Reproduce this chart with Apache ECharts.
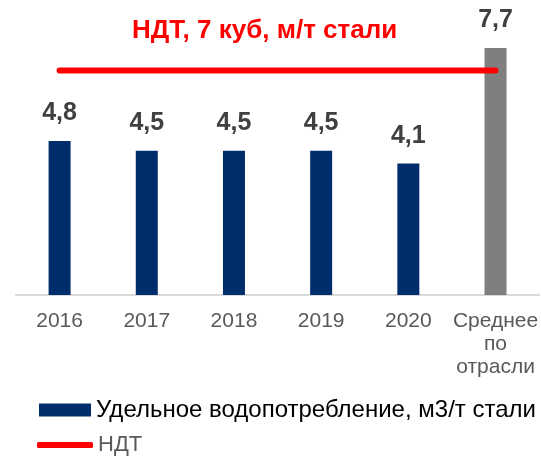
<!DOCTYPE html>
<html>
<head>
<meta charset="utf-8">
<script src="https://cdn.jsdelivr.net/npm/echarts@6/dist/echarts.min.js"></script>
<style>
  html, body { margin: 0; padding: 0; background: #fff; }
  #main { width: 541px; height: 458px; }
</style>
</head>
<body>
<div id="main"></div>
<script>
// данные
let categories = ['2016', '2017', '2018', '2019', '2020', 'Среднее\nпо\nотрасли'];
let waterUse = [4.8, 4.5, 4.5, 4.5, 4.1, 7.7];
let ndtValues = [7, 7, 7, 7, 7, 7];
let barColors = ['#002D6B', '#002D6B', '#002D6B', '#002D6B', '#002D6B', '#7F7F7F'];

let barName = 'Удельное водопотребление, м3/т стали';
let lineName = 'НДТ';
let font = '"Liberation Sans", Arial, sans-serif';

let barData = [];
for (let i = 0; i < waterUse.length; i++) {
    barData.push({ value: waterUse[i], itemStyle: { color: barColors[i] } });
}

let myChart = echarts.init(document.getElementById('main'));
let option = {
    animation: false,
    title: {
        text: 'НДТ, 7 куб, м/т стали',
        left: 127,
        top: 13,
        textStyle: { color: '#FF0000', fontSize: 26, fontWeight: 'bold', fontFamily: font }
    },
    grid: { left: 16, right: 0, top: 0, height: 295, containLabel: false },
    legend: [
        {
            data: [barName],
            orient: 'vertical',
            left: 39,
            top: 398,
            padding: 0,
            icon: 'rect',
            itemWidth: 52,
            itemHeight: 13,
            textStyle: { color: '#000000', fontSize: 24, fontFamily: font }
        },
        {
            data: [{ name: lineName, icon: 'roundRect', itemStyle: { color: '#FF0000' } }],
            orient: 'vertical',
            left: 37,
            top: 434,
            padding: 0,
            itemWidth: 56,
            itemHeight: 6,
            textStyle: { color: '#595959', fontSize: 22, fontFamily: font }
        }
    ],
    xAxis: {
        type: 'category',
        data: categories,
        axisLine: { lineStyle: { color: '#D9D9D9', width: 2 } },
        axisTick: { show: false },
        axisLabel: {
            color: '#595959',
            fontSize: 21,
            fontFamily: font,
            lineHeight: 23,
            margin: 15,
            interval: 0
        }
    },
    yAxis: {
        type: 'value',
        min: 0,
        max: 9.2,
        show: false,
        splitLine: { show: false }
    },
    series: [
        {
            name: barName,
            type: 'bar',
            data: barData,
            barWidth: 22,
            itemStyle: { color: '#002D6B' },
            label: {
                show: true,
                position: 'top',
                distance: 15,
                color: '#404040',
                fontSize: 25,
                fontWeight: 'bold',
                fontFamily: font,
                formatter: function (p) {
                    return p.value.toFixed(1).replace('.', ',');
                }
            }
        },
        {
            name: lineName,
            type: 'line',
            data: ndtValues,
            symbol: 'none',
            z: 5,
            itemStyle: { color: '#FF0000' },
            lineStyle: { color: '#FF0000', width: 6, cap: 'round' }
        }
    ]
};
myChart.setOption(option);
</script>
</body>
</html>
